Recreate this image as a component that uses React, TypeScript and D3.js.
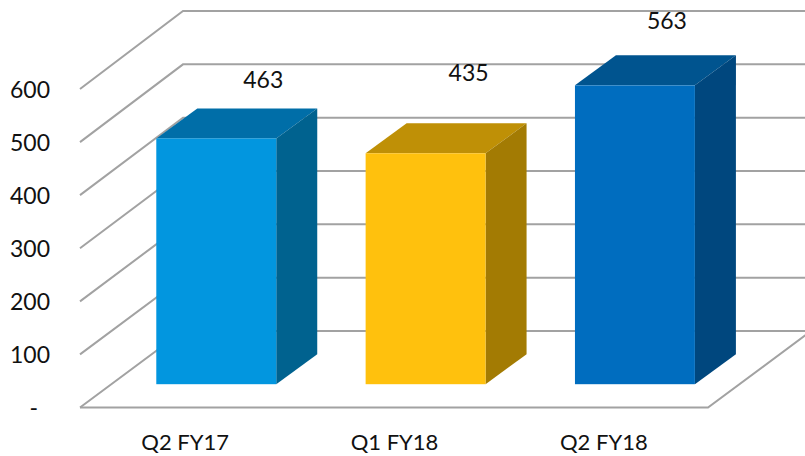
import React from "react";
import * as d3 from "d3";

// Quarterly figures shown as 3D columns.
const categories = ["Q2 FY17", "Q1 FY18", "Q2 FY18"];
const values = [463, 435, 563];
const yTicks = [0, 100, 200, 300, 400, 500, 600];
const faceColors = ["#0296DF", "#FFC10D", "#006DBF"];
const topColors = ["#006EA8", "#BF9006", "#00548F"];
const sideColors = ["#00628F", "#A37B03", "#00477E"];

// Value labels sit freely above each column; offsets from the column centre.
const labelNudgeX = [47, 43, 32];
const labelBaselines = [87.5, 80.5, 28.5];

const WIDTH = 805;
const HEIGHT = 456;
const FONT = "Lato, 'Open Sans', sans-serif";
const GRID = "#A2A2A2";

export default function App() {
  const x = d3.scaleBand<string>().domain(categories).range([80, 708]).paddingInner(0.427).paddingOuter(0.2135);
  const axisX = d3.scaleBand<string>().domain(categories).range([80, 708]);
  const yFront = d3.scaleLinear().domain([0, 600]).range([407.5, 89]);
  const yBack = d3.scaleLinear().domain([0, 600]).range([331, 11]);

  const wallDx = 103; // depth of the chart box, horizontally
  const barInsetX = 31.6; // column front plane, measured from the box front
  const barInsetY = 23.3;
  const barDx = 41; // column depth
  const barDy = 30;

  const poly = d3.line();

  return (
    <svg
      width={WIDTH}
      height={HEIGHT}
      viewBox={`0 0 ${WIDTH} ${HEIGHT}`}
      style={{ position: "absolute", left: 0, top: 0, background: "#fff" }}
    >
      <g fill="none" stroke={GRID} strokeWidth={2}>
        {yTicks.map((t) => (
          <path
            key={t}
            d={
              poly([
                [80, yFront(t)],
                [80 + wallDx, yBack(t)],
                [WIDTH + 6, yBack(t)],
              ]) as string
            }
          />
        ))}
        <path
          d={
            poly([
              [80, yFront(0)],
              [708, yFront(0)],
              [708 + wallDx, yBack(0)],
            ]) as string
          }
        />
      </g>

      {categories.map((c, i) => {
        const x0 = (x(c) as number) + barInsetX;
        const x1 = x0 + x.bandwidth();
        const yBase = yFront(0) - barInsetY;
        const yTop = yBase - (yFront(0) - yFront(values[i]));
        return (
          <g key={c}>
            <path
              fill={topColors[i]}
              d={
                (poly([
                  [x0, yTop],
                  [x0 + barDx, yTop - barDy],
                  [x1 + barDx, yTop - barDy],
                  [x1, yTop],
                ]) as string) + "Z"
              }
            />
            <path
              fill={sideColors[i]}
              d={
                (poly([
                  [x1, yTop],
                  [x1 + barDx, yTop - barDy],
                  [x1 + barDx, yBase - barDy],
                  [x1, yBase],
                ]) as string) + "Z"
              }
            />
            <rect x={x0} y={yTop} width={x1 - x0} height={yBase - yTop} fill={faceColors[i]} />
            <text
              x={(x0 + x1) / 2 + labelNudgeX[i]}
              y={labelBaselines[i]}
              textAnchor="middle"
              fontFamily={FONT}
              fontSize={23}
              fill="#111"
            >
              {values[i]}
            </text>
          </g>
        );
      })}

      <g fontFamily={FONT} fontSize={23} fill="#111">
        {yTicks.map((t) => (
          <text key={t} x={t === 0 ? 38 : 50} y={yFront(t) + 8.5} textAnchor="end">
            {t === 0 ? "-" : t}
          </text>
        ))}
        {categories.map((c) => (
          <text
            key={c}
            x={(axisX(c) as number) + axisX.bandwidth() / 2 + 0.5}
            y={449.5}
            textAnchor="middle"
            fontSize={22}
          >
            {c}
          </text>
        ))}
      </g>
    </svg>
  );
}
